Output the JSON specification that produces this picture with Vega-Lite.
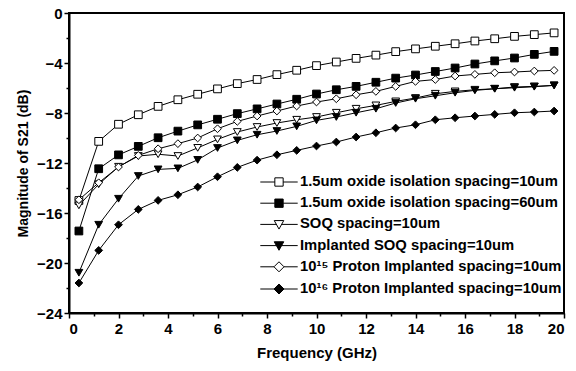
{
  "$schema": "https://vega.github.io/schema/vega-lite/v6.json",
  "width": 576,
  "height": 371,
  "autosize": {"type": "fit", "contains": "padding"},
  "padding": {"left": 16, "top": 6, "right": 4, "bottom": 11},
  "data": {
    "values": [
      {"s": "1.5um oxide isolation spacing=10um", "f": 0.4, "m": -15.0},
      {"s": "1.5um oxide isolation spacing=10um", "f": 1.2, "m": -10.27},
      {"s": "1.5um oxide isolation spacing=10um", "f": 2.0, "m": -8.9},
      {"s": "1.5um oxide isolation spacing=10um", "f": 2.8, "m": -8.14},
      {"s": "1.5um oxide isolation spacing=10um", "f": 3.6, "m": -7.47},
      {"s": "1.5um oxide isolation spacing=10um", "f": 4.4, "m": -6.94},
      {"s": "1.5um oxide isolation spacing=10um", "f": 5.2, "m": -6.5},
      {"s": "1.5um oxide isolation spacing=10um", "f": 6.0, "m": -6.07},
      {"s": "1.5um oxide isolation spacing=10um", "f": 6.8, "m": -5.65},
      {"s": "1.5um oxide isolation spacing=10um", "f": 7.6, "m": -5.32},
      {"s": "1.5um oxide isolation spacing=10um", "f": 8.4, "m": -4.93},
      {"s": "1.5um oxide isolation spacing=10um", "f": 9.2, "m": -4.58},
      {"s": "1.5um oxide isolation spacing=10um", "f": 10.0, "m": -4.21},
      {"s": "1.5um oxide isolation spacing=10um", "f": 10.8, "m": -3.92},
      {"s": "1.5um oxide isolation spacing=10um", "f": 11.6, "m": -3.63},
      {"s": "1.5um oxide isolation spacing=10um", "f": 12.4, "m": -3.37},
      {"s": "1.5um oxide isolation spacing=10um", "f": 13.2, "m": -3.09},
      {"s": "1.5um oxide isolation spacing=10um", "f": 14.0, "m": -2.87},
      {"s": "1.5um oxide isolation spacing=10um", "f": 14.8, "m": -2.66},
      {"s": "1.5um oxide isolation spacing=10um", "f": 15.6, "m": -2.46},
      {"s": "1.5um oxide isolation spacing=10um", "f": 16.4, "m": -2.24},
      {"s": "1.5um oxide isolation spacing=10um", "f": 17.2, "m": -2.06},
      {"s": "1.5um oxide isolation spacing=10um", "f": 18.0, "m": -1.87},
      {"s": "1.5um oxide isolation spacing=10um", "f": 18.8, "m": -1.73},
      {"s": "1.5um oxide isolation spacing=10um", "f": 19.6, "m": -1.59},

      {"s": "1.5um oxide isolation spacing=60um", "f": 0.4, "m": -17.44},
      {"s": "1.5um oxide isolation spacing=60um", "f": 1.2, "m": -12.46},
      {"s": "1.5um oxide isolation spacing=60um", "f": 2.0, "m": -11.35},
      {"s": "1.5um oxide isolation spacing=60um", "f": 2.8, "m": -10.67},
      {"s": "1.5um oxide isolation spacing=60um", "f": 3.6, "m": -9.98},
      {"s": "1.5um oxide isolation spacing=60um", "f": 4.4, "m": -9.45},
      {"s": "1.5um oxide isolation spacing=60um", "f": 5.2, "m": -8.95},
      {"s": "1.5um oxide isolation spacing=60um", "f": 6.0, "m": -8.5},
      {"s": "1.5um oxide isolation spacing=60um", "f": 6.8, "m": -8.05},
      {"s": "1.5um oxide isolation spacing=60um", "f": 7.6, "m": -7.67},
      {"s": "1.5um oxide isolation spacing=60um", "f": 8.4, "m": -7.28},
      {"s": "1.5um oxide isolation spacing=60um", "f": 9.2, "m": -6.9},
      {"s": "1.5um oxide isolation spacing=60um", "f": 10.0, "m": -6.48},
      {"s": "1.5um oxide isolation spacing=60um", "f": 10.8, "m": -6.14},
      {"s": "1.5um oxide isolation spacing=60um", "f": 11.6, "m": -5.87},
      {"s": "1.5um oxide isolation spacing=60um", "f": 12.4, "m": -5.54},
      {"s": "1.5um oxide isolation spacing=60um", "f": 13.2, "m": -5.21},
      {"s": "1.5um oxide isolation spacing=60um", "f": 14.0, "m": -4.96},
      {"s": "1.5um oxide isolation spacing=60um", "f": 14.8, "m": -4.68},
      {"s": "1.5um oxide isolation spacing=60um", "f": 15.6, "m": -4.4},
      {"s": "1.5um oxide isolation spacing=60um", "f": 16.4, "m": -4.08},
      {"s": "1.5um oxide isolation spacing=60um", "f": 17.2, "m": -3.83},
      {"s": "1.5um oxide isolation spacing=60um", "f": 18.0, "m": -3.6},
      {"s": "1.5um oxide isolation spacing=60um", "f": 18.8, "m": -3.31},
      {"s": "1.5um oxide isolation spacing=60um", "f": 19.6, "m": -3.07},

      {"s": "SOQ spacing=10um", "f": 0.4, "m": -15.39},
      {"s": "SOQ spacing=10um", "f": 1.2, "m": -13.7},
      {"s": "SOQ spacing=10um", "f": 2.0, "m": -12.3},
      {"s": "SOQ spacing=10um", "f": 2.8, "m": -11.44},
      {"s": "SOQ spacing=10um", "f": 3.6, "m": -11.3},
      {"s": "SOQ spacing=10um", "f": 4.4, "m": -11.44},
      {"s": "SOQ spacing=10um", "f": 5.2, "m": -10.79},
      {"s": "SOQ spacing=10um", "f": 6.0, "m": -10.11},
      {"s": "SOQ spacing=10um", "f": 6.8, "m": -9.52},
      {"s": "SOQ spacing=10um", "f": 7.6, "m": -9.12},
      {"s": "SOQ spacing=10um", "f": 8.4, "m": -8.8},
      {"s": "SOQ spacing=10um", "f": 9.2, "m": -8.54},
      {"s": "SOQ spacing=10um", "f": 10.0, "m": -8.32},
      {"s": "SOQ spacing=10um", "f": 10.8, "m": -7.98},
      {"s": "SOQ spacing=10um", "f": 11.6, "m": -7.66},
      {"s": "SOQ spacing=10um", "f": 12.4, "m": -7.39},
      {"s": "SOQ spacing=10um", "f": 13.2, "m": -7.07},
      {"s": "SOQ spacing=10um", "f": 14.0, "m": -6.8},
      {"s": "SOQ spacing=10um", "f": 14.8, "m": -6.46},
      {"s": "SOQ spacing=10um", "f": 15.6, "m": -6.27},
      {"s": "SOQ spacing=10um", "f": 16.4, "m": -6.14},
      {"s": "SOQ spacing=10um", "f": 17.2, "m": -6.06},
      {"s": "SOQ spacing=10um", "f": 18.0, "m": -5.92},
      {"s": "SOQ spacing=10um", "f": 18.8, "m": -5.87},
      {"s": "SOQ spacing=10um", "f": 19.6, "m": -5.79},

      {"s": "Implanted SOQ spacing=10um", "f": 0.4, "m": -20.78},
      {"s": "Implanted SOQ spacing=10um", "f": 1.2, "m": -16.94},
      {"s": "Implanted SOQ spacing=10um", "f": 2.0, "m": -14.86},
      {"s": "Implanted SOQ spacing=10um", "f": 2.8, "m": -13.04},
      {"s": "Implanted SOQ spacing=10um", "f": 3.6, "m": -12.51},
      {"s": "Implanted SOQ spacing=10um", "f": 4.4, "m": -12.43},
      {"s": "Implanted SOQ spacing=10um", "f": 5.2, "m": -11.75},
      {"s": "Implanted SOQ spacing=10um", "f": 6.0, "m": -10.8},
      {"s": "Implanted SOQ spacing=10um", "f": 6.8, "m": -10.19},
      {"s": "Implanted SOQ spacing=10um", "f": 7.6, "m": -9.74},
      {"s": "Implanted SOQ spacing=10um", "f": 8.4, "m": -9.44},
      {"s": "Implanted SOQ spacing=10um", "f": 9.2, "m": -9.07},
      {"s": "Implanted SOQ spacing=10um", "f": 10.0, "m": -8.59},
      {"s": "Implanted SOQ spacing=10um", "f": 10.8, "m": -8.32},
      {"s": "Implanted SOQ spacing=10um", "f": 11.6, "m": -7.98},
      {"s": "Implanted SOQ spacing=10um", "f": 12.4, "m": -7.66},
      {"s": "Implanted SOQ spacing=10um", "f": 13.2, "m": -7.2},
      {"s": "Implanted SOQ spacing=10um", "f": 14.0, "m": -6.86},
      {"s": "Implanted SOQ spacing=10um", "f": 14.8, "m": -6.62},
      {"s": "Implanted SOQ spacing=10um", "f": 15.6, "m": -6.38},
      {"s": "Implanted SOQ spacing=10um", "f": 16.4, "m": -6.19},
      {"s": "Implanted SOQ spacing=10um", "f": 17.2, "m": -6.06},
      {"s": "Implanted SOQ spacing=10um", "f": 18.0, "m": -5.98},
      {"s": "Implanted SOQ spacing=10um", "f": 18.8, "m": -5.9},
      {"s": "Implanted SOQ spacing=10um", "f": 19.6, "m": -5.79},

      {"s": "10¹⁵ Proton Implanted spacing=10um", "f": 0.4, "m": -14.94},
      {"s": "10¹⁵ Proton Implanted spacing=10um", "f": 1.2, "m": -13.58},
      {"s": "10¹⁵ Proton Implanted spacing=10um", "f": 2.0, "m": -12.32},
      {"s": "10¹⁵ Proton Implanted spacing=10um", "f": 2.8, "m": -11.39},
      {"s": "10¹⁵ Proton Implanted spacing=10um", "f": 3.6, "m": -10.86},
      {"s": "10¹⁵ Proton Implanted spacing=10um", "f": 4.4, "m": -10.45},
      {"s": "10¹⁵ Proton Implanted spacing=10um", "f": 5.2, "m": -10.0},
      {"s": "10¹⁵ Proton Implanted spacing=10um", "f": 6.0, "m": -9.26},
      {"s": "10¹⁵ Proton Implanted spacing=10um", "f": 6.8, "m": -8.67},
      {"s": "10¹⁵ Proton Implanted spacing=10um", "f": 7.6, "m": -8.24},
      {"s": "10¹⁵ Proton Implanted spacing=10um", "f": 8.4, "m": -7.84},
      {"s": "10¹⁵ Proton Implanted spacing=10um", "f": 9.2, "m": -7.44},
      {"s": "10¹⁵ Proton Implanted spacing=10um", "f": 10.0, "m": -7.12},
      {"s": "10¹⁵ Proton Implanted spacing=10um", "f": 10.8, "m": -6.86},
      {"s": "10¹⁵ Proton Implanted spacing=10um", "f": 11.6, "m": -6.54},
      {"s": "10¹⁵ Proton Implanted spacing=10um", "f": 12.4, "m": -6.27},
      {"s": "10¹⁵ Proton Implanted spacing=10um", "f": 13.2, "m": -5.87},
      {"s": "10¹⁵ Proton Implanted spacing=10um", "f": 14.0, "m": -5.47},
      {"s": "10¹⁵ Proton Implanted spacing=10um", "f": 14.8, "m": -5.32},
      {"s": "10¹⁵ Proton Implanted spacing=10um", "f": 15.6, "m": -5.04},
      {"s": "10¹⁵ Proton Implanted spacing=10um", "f": 16.4, "m": -4.91},
      {"s": "10¹⁵ Proton Implanted spacing=10um", "f": 17.2, "m": -4.78},
      {"s": "10¹⁵ Proton Implanted spacing=10um", "f": 18.0, "m": -4.72},
      {"s": "10¹⁵ Proton Implanted spacing=10um", "f": 18.8, "m": -4.64},
      {"s": "10¹⁵ Proton Implanted spacing=10um", "f": 19.6, "m": -4.59},

      {"s": "10¹⁶ Proton Implanted spacing=10um", "f": 0.4, "m": -21.6},
      {"s": "10¹⁶ Proton Implanted spacing=10um", "f": 1.2, "m": -18.99},
      {"s": "10¹⁶ Proton Implanted spacing=10um", "f": 2.0, "m": -16.94},
      {"s": "10¹⁶ Proton Implanted spacing=10um", "f": 2.8, "m": -15.71},
      {"s": "10¹⁶ Proton Implanted spacing=10um", "f": 3.6, "m": -14.99},
      {"s": "10¹⁶ Proton Implanted spacing=10um", "f": 4.4, "m": -14.54},
      {"s": "10¹⁶ Proton Implanted spacing=10um", "f": 5.2, "m": -13.92},
      {"s": "10¹⁶ Proton Implanted spacing=10um", "f": 6.0, "m": -13.1},
      {"s": "10¹⁶ Proton Implanted spacing=10um", "f": 6.8, "m": -12.35},
      {"s": "10¹⁶ Proton Implanted spacing=10um", "f": 7.6, "m": -11.77},
      {"s": "10¹⁶ Proton Implanted spacing=10um", "f": 8.4, "m": -11.34},
      {"s": "10¹⁶ Proton Implanted spacing=10um", "f": 9.2, "m": -10.99},
      {"s": "10¹⁶ Proton Implanted spacing=10um", "f": 10.0, "m": -10.64},
      {"s": "10¹⁶ Proton Implanted spacing=10um", "f": 10.8, "m": -10.32},
      {"s": "10¹⁶ Proton Implanted spacing=10um", "f": 11.6, "m": -9.92},
      {"s": "10¹⁶ Proton Implanted spacing=10um", "f": 12.4, "m": -9.58},
      {"s": "10¹⁶ Proton Implanted spacing=10um", "f": 13.2, "m": -9.2},
      {"s": "10¹⁶ Proton Implanted spacing=10um", "f": 14.0, "m": -8.94},
      {"s": "10¹⁶ Proton Implanted spacing=10um", "f": 14.8, "m": -8.54},
      {"s": "10¹⁶ Proton Implanted spacing=10um", "f": 15.6, "m": -8.38},
      {"s": "10¹⁶ Proton Implanted spacing=10um", "f": 16.4, "m": -8.24},
      {"s": "10¹⁶ Proton Implanted spacing=10um", "f": 17.2, "m": -8.11},
      {"s": "10¹⁶ Proton Implanted spacing=10um", "f": 18.0, "m": -7.98},
      {"s": "10¹⁶ Proton Implanted spacing=10um", "f": 18.8, "m": -7.92},
      {"s": "10¹⁶ Proton Implanted spacing=10um", "f": 19.6, "m": -7.84}
    ]
  },
  "layer": [
    {
      "mark": {"type": "line", "color": "black", "strokeWidth": 1},
      "encoding": {
        "x": {"field": "f", "type": "quantitative", "scale": {"domain": [0, 20], "nice": false},
              "axis": {"title": null, "values": [1,3,5,7,9,11,13,15,17,19], "labels": false, "tickSize": 3, "domain": false, "orient": "bottom"}},
        "y": {"field": "m", "type": "quantitative", "scale": {"domain": [-24, 0], "nice": false},
              "axis": {"title": null, "values": [-22,-18,-14,-10,-6,-2], "labels": false, "tickSize": 3, "domain": false, "orient": "left"}},
        "detail": {"field": "s"}
      }
    },
    {
      "mark": {"type": "point", "filled": false, "stroke": "black", "strokeWidth": 1, "opacity": 1, "size": 60},
      "encoding": {
        "x": {"field": "f", "type": "quantitative",
              "axis": {"title": "Frequency (GHz)", "values": [0,2,4,6,8,10,12,14,16,18,20], "tickSize": 5, "orient": "bottom", "labelPadding": 3, "titlePadding": 9}},
        "y": {"field": "m", "type": "quantitative",
              "axis": {"title": "Magnitude of S21 (dB)", "values": [-24,-20,-16,-12,-8,-4,0], "tickSize": 5, "orient": "left", "labelPadding": 2, "titlePadding": 6, "titleFontSize": 14}},
        "shape": {"field": "s", "type": "nominal", "legend": null,
                  "scale": {"domain": ["1.5um oxide isolation spacing=10um", "1.5um oxide isolation spacing=60um", "SOQ spacing=10um", "Implanted SOQ spacing=10um", "10¹⁵ Proton Implanted spacing=10um", "10¹⁶ Proton Implanted spacing=10um"],
                            "range": ["square", "square", "triangle-down", "triangle-down", "diamond", "diamond"]}},
        "fill": {"field": "s", "type": "nominal", "legend": null,
                 "scale": {"domain": ["1.5um oxide isolation spacing=10um", "1.5um oxide isolation spacing=60um", "SOQ spacing=10um", "Implanted SOQ spacing=10um", "10¹⁵ Proton Implanted spacing=10um", "10¹⁶ Proton Implanted spacing=10um"],
                           "range": ["white", "black", "white", "black", "white", "black"]}}
      }
    },
    {
      "mark": {"type": "point", "filled": true, "stroke": "black", "strokeWidth": 1, "opacity": 0, "size": 289},
      "encoding": {
        "x": {"field": "f", "type": "quantitative", "axis": null},
        "y": {"field": "m", "type": "quantitative", "axis": null},
        "shape": {"field": "s", "type": "nominal",
                  "scale": {"domain": ["1.5um oxide isolation spacing=10um", "1.5um oxide isolation spacing=60um", "SOQ spacing=10um", "Implanted SOQ spacing=10um", "10¹⁵ Proton Implanted spacing=10um", "10¹⁶ Proton Implanted spacing=10um"],
                            "range": ["M-2.2,0L-0.49,0M0.49,0L2.2,0M-0.49,-0.49L0.49,-0.49L0.49,0.49L-0.49,0.49Z", "M-2.2,0L-0.49,0M0.49,0L2.2,0M-0.49,-0.49L0.49,-0.49L0.49,0.49L-0.49,0.49Z", "M-2.2,0L-0.28,0M0.28,0L2.2,0M-0.56,-0.45L0.56,-0.45L0,0.55Z", "M-2.2,0L-0.28,0M0.28,0L2.2,0M-0.56,-0.45L0.56,-0.45L0,0.55Z", "M-2.2,0L-0.59,0M0.59,0L2.2,0M-0.59,0L0,-0.59L0.59,0L0,0.59Z", "M-2.2,0L-0.59,0M0.59,0L2.2,0M-0.59,0L0,-0.59L0.59,0L0,0.59Z"]},
                  "legend": {"title": null, "orient": "none", "legendX": 201, "legendY": 160, "padding": 0, "symbolSize": 289, "symbolStrokeWidth": 1, "labelFontSize": 14.8, "labelFont": "Liberation Sans", "labelFontWeight": "bold", "labelColor": "black", "labelOffset": 12, "rowPadding": 5.2, "labelLimit": 400,
                             "encode": {"symbols": {"update": {"stroke": {"value": "black"}, "strokeWidth": {"value": 1}, "opacity": {"value": 1}}}}}},
        "color": {"field": "s", "type": "nominal",
                 "scale": {"domain": ["1.5um oxide isolation spacing=10um", "1.5um oxide isolation spacing=60um", "SOQ spacing=10um", "Implanted SOQ spacing=10um", "10¹⁵ Proton Implanted spacing=10um", "10¹⁶ Proton Implanted spacing=10um"],
                           "range": ["white", "black", "white", "black", "white", "black"]},
                 "legend": {"title": null, "orient": "none", "legendX": 201, "legendY": 160, "padding": 0, "symbolSize": 289, "symbolStrokeWidth": 1, "labelFontSize": 14.8, "labelFont": "Liberation Sans", "labelFontWeight": "bold", "labelColor": "black", "labelOffset": 12, "rowPadding": 5.2, "labelLimit": 400,
                             "encode": {"symbols": {"update": {"stroke": {"value": "black"}, "strokeWidth": {"value": 1}, "opacity": {"value": 1}}}}}}
      }
    }
  ],
  "resolve": {"axis": {"x": "independent", "y": "independent"}, "scale": {"shape": "independent", "fill": "independent", "color": "independent"}},
  "config": {
    "view": {"stroke": "black", "strokeWidth": 2},
    "font": "Liberation Sans",
    "axis": {"grid": false, "domainColor": "black", "domainWidth": 2, "tickColor": "black", "tickWidth": 1.5,
             "labelFont": "Liberation Sans", "labelFontWeight": "bold", "labelFontSize": 15, "labelColor": "black",
             "titleFont": "Liberation Sans", "titleFontWeight": "bold", "titleFontSize": 15, "titleColor": "black"}
  }
}
